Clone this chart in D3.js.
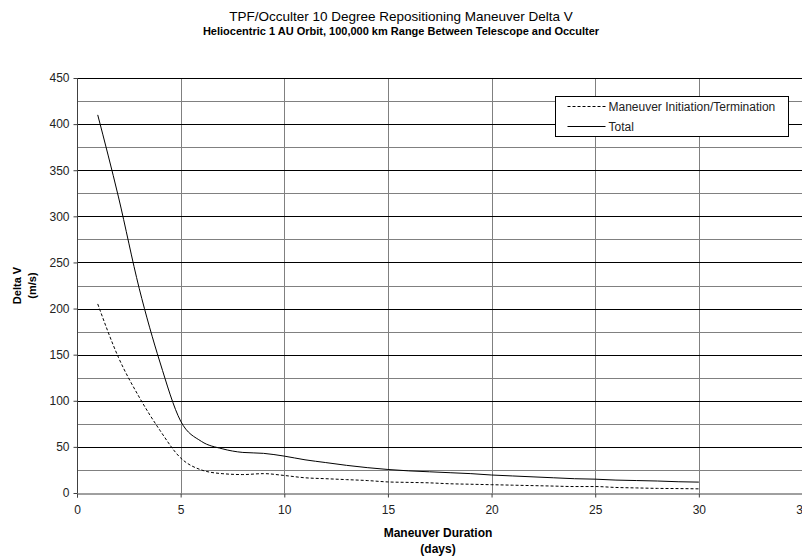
<!DOCTYPE html>
<html>
<head>
<meta charset="utf-8">
<script src="https://cdn.jsdelivr.net/npm/d3@7"></script>
<style>
  body { margin: 0; background: #fff; }
  svg { font-family: Arial, "Liberation Sans", sans-serif; }
</style>
</head>
<body>
<div id="chart"></div>
<script>
// Data
const days = [1, 2, 3, 4, 5, 6, 7, 8, 9, 10, 11, 12, 13, 14, 15, 16, 17, 18, 19, 20, 21, 22, 23, 24, 25, 26, 27, 28, 29, 30];
const initTerm = [205, 147, 104, 68, 38, 25, 21, 20, 21, 19, 16.5, 15.5, 14.5, 13.5, 12, 11.5, 11, 10, 9.5, 9, 8.5, 8, 7.5, 7, 7, 6, 5.5, 5, 4.8, 4.5];
const total = [410, 321, 222, 142, 78, 56, 48, 44, 43, 40, 36, 33, 30, 27.5, 25.5, 24, 23, 22, 21, 19.5, 18.5, 17.5, 16.5, 15.5, 15, 14, 13.5, 13, 12.2, 11.8];
const xTicks = [0, 5, 10, 15, 20, 25, 30, 35];
const yTicks = [0, 50, 100, 150, 200, 250, 300, 350, 400, 450];
const yMinor = [25, 75, 125, 175, 225, 275, 325, 375, 425];
const seriesNames = ["Maneuver Initiation/Termination", "Total"];

const W = 802, H = 558;
const margin = { top: 78, right: 0, bottom: 65, left: 77 };

const svg = d3.select("#chart").append("svg")
  .attr("width", W)
  .attr("height", H);

const x = d3.scaleLinear().domain([0, 35]).range([margin.left, 802.5]);
const y = d3.scaleLinear().domain([0, 450]).range([H - margin.bottom, margin.top]);

// Title
svg.append("text")
  .attr("x", 401).attr("y", 21)
  .attr("text-anchor", "middle")
  .attr("font-size", 13.5)
  .attr("fill", "#000")
  .text("TPF/Occulter 10 Degree Repositioning Maneuver Delta V");
svg.append("text")
  .attr("x", 401).attr("y", 35)
  .attr("text-anchor", "middle")
  .attr("font-size", 11)
  .attr("font-weight", "bold")
  .text("Heliocentric 1 AU Orbit, 100,000 km Range Between Telescope and Occulter");

// Gridlines
const grid = svg.append("g");
grid.selectAll(".vgrid")
  .data(xTicks.filter(d => d > 0))
  .join("line")
  .attr("x1", d => Math.round(x(d)) + 0.5).attr("x2", d => Math.round(x(d)) + 0.5)
  .attr("y1", y(450)).attr("y2", y(0))
  .attr("stroke", "#808080");
grid.selectAll(".minor")
  .data(yMinor)
  .join("line")
  .attr("x1", x(0)).attr("x2", W)
  .attr("y1", d => Math.round(y(d)) + 0.5).attr("y2", d => Math.round(y(d)) + 0.5)
  .attr("stroke", "#808080");
grid.selectAll(".major")
  .data(yTicks.filter(d => d > 0))
  .join("line")
  .attr("x1", x(0)).attr("x2", W)
  .attr("y1", d => Math.round(y(d)) + 0.5).attr("y2", d => Math.round(y(d)) + 0.5)
  .attr("stroke", "#000");

// Axes
const yAxis = d3.axisLeft(y).tickValues(yTicks).tickSize(4).tickPadding(4);
const xAxis = d3.axisBottom(x).tickValues(xTicks).tickSize(4).tickPadding(8);

const gy = svg.append("g")
  .attr("transform", `translate(${Math.round(x(0)) + 0.5},0)`)
  .call(yAxis);
const gx = svg.append("g")
  .attr("transform", `translate(0,${Math.round(y(0)) + 0.5})`)
  .call(xAxis);

[gx, gy].forEach(g => {
  g.select(".domain").attr("stroke", "#404040");
  g.selectAll(".tick line").attr("stroke", "#404040");
  g.selectAll(".tick text")
    .attr("font-size", 12)
    .attr("font-family", "Arial, 'Liberation Sans', sans-serif")
    .attr("fill", "#222");
});
gy.select(".domain").attr("d", `M0,${y(450)}V${y(0)}`);

// Axis titles
svg.append("text")
  .attr("transform", `translate(21,${y(225)}) rotate(-90)`)
  .attr("text-anchor", "middle")
  .attr("font-size", 11).attr("font-weight", "bold")
  .text("Delta V");
svg.append("text")
  .attr("transform", `translate(36,${y(225)}) rotate(-90)`)
  .attr("text-anchor", "middle")
  .attr("font-size", 11).attr("font-weight", "bold")
  .text("(m/s)");
svg.append("text")
  .attr("x", 438).attr("y", 537)
  .attr("text-anchor", "middle")
  .attr("font-size", 12).attr("font-weight", "bold")
  .text("Maneuver Duration");
svg.append("text")
  .attr("x", 438).attr("y", 553)
  .attr("text-anchor", "middle")
  .attr("font-size", 12).attr("font-weight", "bold")
  .text("(days)");

// Lines
const line = d3.line()
  .x((d, i) => x(days[i]))
  .y(d => y(d))
  .curve(d3.curveMonotoneX);

svg.append("path")
  .datum(initTerm)
  .attr("d", line)
  .attr("fill", "none")
  .attr("stroke", "#000")
  .attr("stroke-width", 1)
  .attr("stroke-dasharray", "3,2");

svg.append("path")
  .datum(total)
  .attr("d", line)
  .attr("fill", "none")
  .attr("stroke", "#000")
  .attr("stroke-width", 1);

// Legend
const legend = svg.append("g").attr("transform", "translate(555.5,96.5)");
legend.append("rect")
  .attr("width", 233).attr("height", 40)
  .attr("fill", "#fff")
  .attr("stroke", "#000");
const items = legend.selectAll(".item")
  .data(seriesNames)
  .join("g")
  .attr("transform", (d, i) => `translate(0,${10 + i * 20})`);
items.append("line")
  .attr("x1", 12).attr("x2", 50)
  .attr("stroke", "#000")
  .attr("stroke-dasharray", (d, i) => i === 0 ? "3,2" : null);
items.append("text")
  .attr("x", 53).attr("y", 4)
  .attr("font-size", 12)
  .attr("fill", "#222")
  .text(d => d);
</script>
</body>
</html>
